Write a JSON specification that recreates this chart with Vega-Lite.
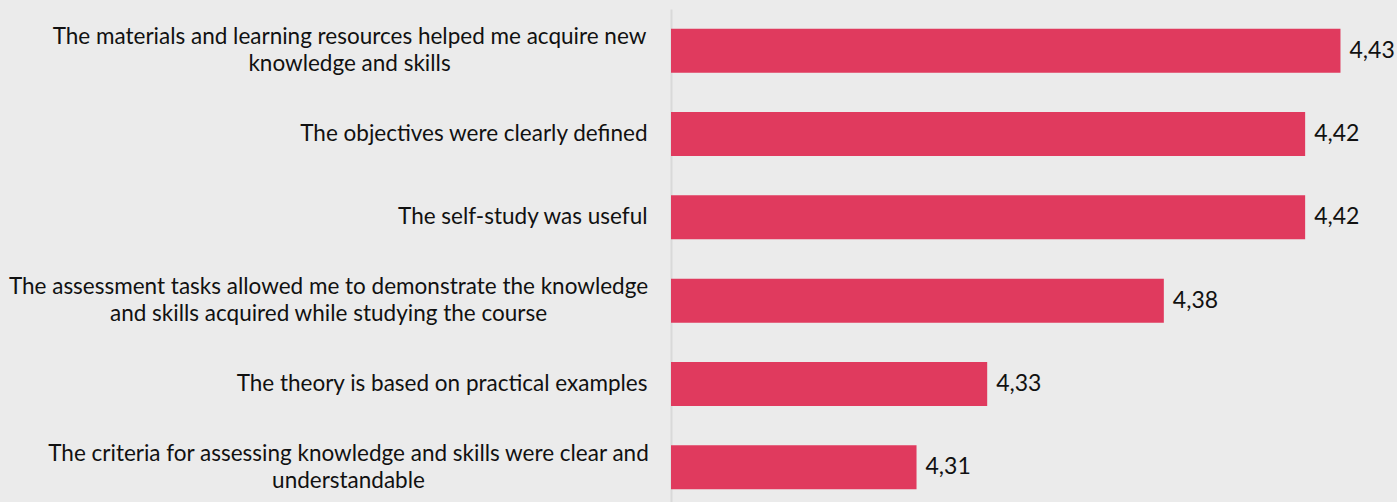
{
  "$schema": "https://vega.github.io/schema/vega-lite/v6.json",
  "autosize": "none",
  "width": 726,
  "height": 500,
  "padding": {"left": 671, "top": 9, "right": 0, "bottom": 0},
  "background": "#EBEBEB",
  "config": {
    "view": {"stroke": null},
    "locale": {"number": {"decimal": ",", "thousands": ".", "grouping": [3], "currency": ["", " €"]}},
    "font": "Lato"
  },
  "data": {
    "values": [
      {"item": "The materials and learning resources helped me acquire new|knowledge and skills", "score": 4.43},
      {"item": "The objectives were clearly defined", "score": 4.42},
      {"item": "The self-study was useful", "score": 4.42},
      {"item": "The assessment tasks allowed me to demonstrate the knowledge|and skills acquired while studying the course", "score": 4.38},
      {"item": "The theory is based on practical examples", "score": 4.33},
      {"item": "The criteria for assessing knowledge and skills were clear and|understandable", "score": 4.31}
    ]
  },
  "encoding": {
    "y": {
      "field": "item",
      "type": "nominal",
      "sort": null,
      "scale": {"paddingInner": 0.4724, "paddingOuter": 0.236},
      "axis": {
        "title": null,
        "ticks": false,
        "labelExpr": "split(datum.label, '|')",
        "labelLimit": 700,
        "labelFont": "Lato",
        "labelFontSize": 22.5,
        "labelColor": "#111111",
        "labelLineHeight": 27,
        "domainColor": "#D9D9D9",
        "domainWidth": 2,
        "labelAlign": {"condition": {"test": "indexof(datum.value, '|') >= 0", "value": "center"}, "value": "right"},
        "labelOffset": {"condition": {"test": "indexof(datum.value, '|') >= 0", "value": -13.5}, "value": 0},
        "labelPadding": {
          "condition": [
            {"test": "indexof(datum.value, 'materials') >= 0", "value": 322},
            {"test": "indexof(datum.value, 'assessment tasks') >= 0", "value": 343},
            {"test": "indexof(datum.value, 'criteria') >= 0", "value": 323}
          ],
          "value": 24
        }
      }
    },
    "x": {
      "field": "score",
      "type": "quantitative",
      "scale": {"domain": [4.2405, 4.446], "nice": false, "zero": false},
      "axis": null
    }
  },
  "layer": [
    {"mark": {"type": "bar", "color": "#E03A5E", "clip": true}},
    {
      "mark": {"type": "text", "align": "left", "baseline": "middle", "dx": 9, "fontSize": 23, "font": "Lato", "color": "#111111"},
      "encoding": {"text": {"field": "score", "type": "quantitative", "format": ".2f"}}
    }
  ]
}
